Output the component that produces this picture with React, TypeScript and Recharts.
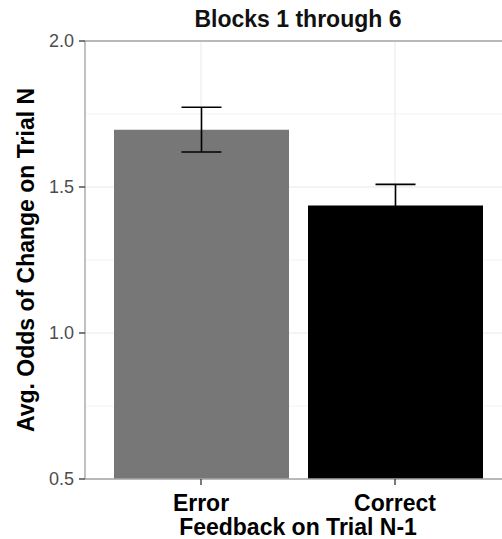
import React from "react";
import { BarChart, Bar, XAxis, YAxis, CartesianGrid, ErrorBar, Cell, ReferenceLine } from "recharts";

// feedback condition on trial N-1
const categories = ["Error", "Correct"];
const meanOdds = [1.696, 1.437];
const errLow = [0.076, 0.072];
const errHigh = [0.077, 0.072];
const barColors = ["#777777", "#000000"];

const yTicks = [0.5, 1.0, 1.5, 2.0];
const yMinor = [0.75, 1.25, 1.75];

const data = categories.map((c, i) => ({
  feedback: c,
  odds: meanOdds[i],
  err: [errLow[i], errHigh[i]],
}));

const FONT = "'Liberation Sans', Arial, sans-serif";
const BOLD = 23;

const YTitle = (props: any) => {
  const vb = props.viewBox;
  const cx = 34;
  const cy = vb.y + vb.height / 2;
  return (
    <text
      x={cx}
      y={cy}
      transform={`rotate(-90, ${cx}, ${cy})`}
      textAnchor="middle"
      fontFamily={FONT}
      fontSize={BOLD}
      fontWeight="bold"
      fill="#000"
    >
      Avg. Odds of Change on Trial N
    </text>
  );
};

export default function App() {
  return (
    <div style={{ position: "fixed", left: 0, top: 0, width: 502, height: 539, overflow: "hidden", background: "#fff" }}>
      <BarChart width={520} height={539} data={data} margin={{ top: 41, right: 9, left: 0, bottom: 0 }}>
        <CartesianGrid stroke="#f3f3f3" strokeWidth={1} horizontalValues={yMinor} vertical={false} />
        <CartesianGrid stroke="#e8e8e8" strokeWidth={1} />
        <XAxis
          dataKey="feedback"
          height={60}
          padding={{ left: 19, right: 19 }}
          axisLine={{ stroke: "#a6a6a6", strokeWidth: 1.3 }}
          tickLine={{ stroke: "#333", strokeWidth: 1.3 }}
          tickSize={6}
          tickMargin={10}
          tick={{ fontFamily: FONT, fontSize: BOLD, fontWeight: "bold", fill: "#000" }}
          label={{ value: "Feedback on Trial N-1", position: "insideBottom", offset: 4, fontFamily: FONT, fontSize: BOLD, fontWeight: "bold", fill: "#000" }}
        />
        <YAxis
          width={85}
          domain={[0.5, 2]}
          ticks={yTicks}
          allowDataOverflow
          tickFormatter={(v) => Number(v).toFixed(1)}
          axisLine={{ stroke: "#a6a6a6", strokeWidth: 1.3 }}
          tickLine={{ stroke: "#333", strokeWidth: 1.3 }}
          tickSize={6}
          tickMargin={5}
          tick={{ fontFamily: FONT, fontSize: 18, fill: "#4d4d4d" }}
          label={YTitle}
        />
        <ReferenceLine
          y={2}
          stroke="#a6a6a6"
          strokeWidth={1.3}
          label={{ value: "Blocks 1 through 6", position: "top", offset: 14, fontFamily: FONT, fontSize: BOLD, fontWeight: "bold", fill: "#111" }}
        />
        <Bar dataKey="odds" barSize={175} isAnimationActive={false}>
          {data.map((d, i) => (
            <Cell key={d.feedback} fill={barColors[i]} />
          ))}
          <ErrorBar dataKey="err" width={20} stroke="#000" strokeOpacity={1} strokeWidth={1.6} isAnimationActive={false} />
        </Bar>
      </BarChart>
    </div>
  );
}
